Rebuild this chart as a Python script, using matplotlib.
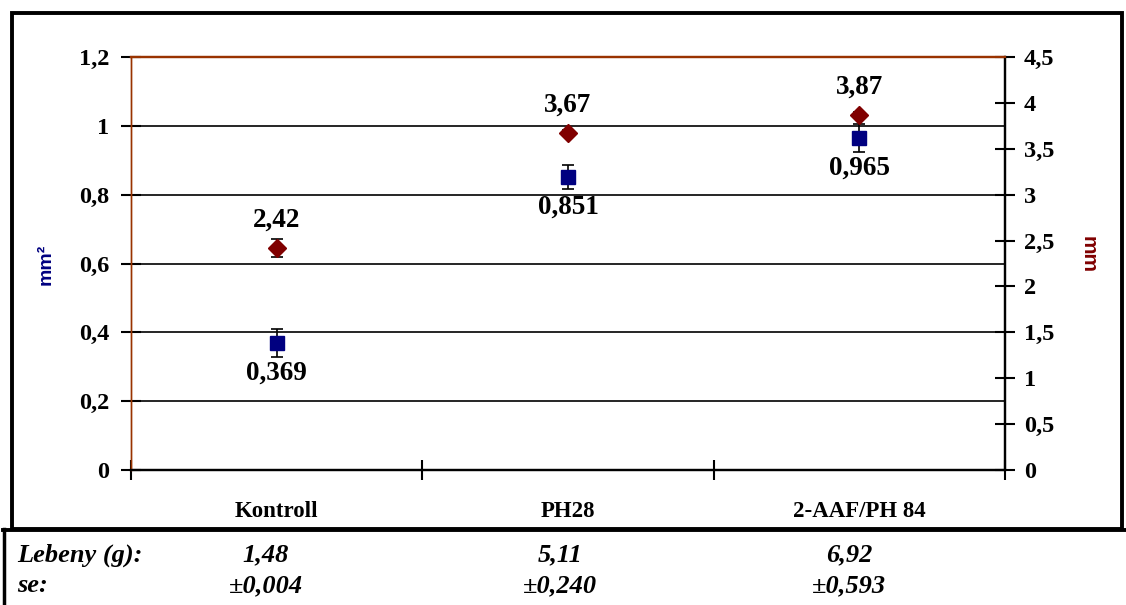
import numpy as np
import matplotlib
matplotlib.use("Agg")
import matplotlib.pyplot as plt
from matplotlib.patches import Rectangle
from matplotlib.lines import Line2D
from matplotlib.ticker import FuncFormatter

# --- adatok ---
categories = ["Kontroll", "PH28", "2-AAF/PH 84"]
area_mm2 = [0.369, 0.851, 0.965]        # bal tengely (mm2)
area_err = [0.04, 0.035, 0.04]
length_mm = [2.42, 3.67, 3.87]          # jobb tengely (mm)
length_err = [0.10, 0.03, 0.03]
area_labels = ["0,369", "0,851", "0,965"]
length_labels = ["2,42", "3,67", "3,87"]
lebeny = ["1,48", "5,11", "6,92"]
lebeny_se = ["±0,004", "±0,240", "±0,593"]

navy = "#000080"
darkred = "#800000"
brown = "#993300"
serif = "Liberation Serif"

W, H = 1126, 605
fig = plt.figure(figsize=(W / 100, H / 100), dpi=100)
ax = fig.add_axes([131 / W, 1 - 470 / H, (1005 - 131) / W, (470 - 57) / H])
ax2 = ax.twinx()

x = np.arange(len(categories)) + 0.5

# rácsvonalak
ax.set_ylim(0, 1.2)
ax.set_xlim(0, 3)
for yv in np.arange(0.2, 1.01, 0.2):
    ax.axhline(yv, color="black", lw=1.2, zorder=1)

# négyzetek (bal tengely)
ax.errorbar(x, area_mm2, yerr=area_err, fmt="none", ecolor="black",
            elinewidth=1.2, capsize=4, capthick=1.2, zorder=3)
ax.plot(x, area_mm2, "s", color=navy, ms=10, zorder=4)
for xi, v, lab in zip(x, area_mm2, area_labels):
    ax.annotate(lab, (xi, v), xytext=(0, -22), textcoords="offset points",
                ha="center", va="center", fontsize=19.5, fontweight="bold",
                family=serif)

# rombuszok (jobb tengely)
ax2.set_ylim(0, 4.5)
ax2.errorbar(x, length_mm, yerr=length_err, fmt="none", ecolor="black",
             elinewidth=1.2, capsize=4, capthick=1.2, zorder=3)
ax2.plot(x, length_mm, "D", color=darkred, ms=9, zorder=4)
for xi, v, lab in zip(x, length_mm, length_labels):
    ax2.annotate(lab, (xi, v), xytext=(0, 20), textcoords="offset points",
                 ha="center", va="center", fontsize=19.5, fontweight="bold",
                 family=serif)

# tengelyek
comma = FuncFormatter(lambda v, p: f"{v:g}".replace(".", ","))
ax.set_yticks(np.arange(0, 1.21, 0.2))
ax.yaxis.set_major_formatter(comma)
ax2.set_yticks(np.arange(0, 4.51, 0.5))
ax2.yaxis.set_major_formatter(comma)

ax.set_xticks([0, 1, 2, 3])
ax.set_xticklabels([])
ax.set_xticks(x, minor=True)
ax.set_xticklabels(categories, minor=True)
ax.tick_params(axis="x", which="major", direction="inout", length=15, width=1.5)
ax.tick_params(axis="x", which="minor", length=0, pad=22)
ax.tick_params(axis="y", direction="inout", length=15, width=1.5, pad=8)
ax2.tick_params(axis="y", direction="inout", length=15, width=1.5, pad=6)

for a in (ax, ax2):
    for lab in a.get_xticklabels(which="both") + a.get_yticklabels():
        lab.set_fontfamily(serif)
        lab.set_fontweight("bold")
        lab.set_fontsize(17.5)
for lab in ax.get_xticklabels(which="minor"):
    lab.set_fontsize(16.5)

for a in (ax, ax2):
    a.spines["left"].set_color(brown)
    a.spines["left"].set_linewidth(1.0)
    a.spines["top"].set_color(brown)
    a.spines["top"].set_linewidth(1.6)
    a.spines["bottom"].set_color("black")
    a.spines["bottom"].set_linewidth(1.6)
    a.spines["right"].set_color("black")
    a.spines["right"].set_linewidth(1.6)

fig.text(46 / W, 1 - 264 / H, "mm²", rotation=90, ha="center", va="center",
         color=navy, fontsize=14, fontweight="bold", family="Liberation Sans")
fig.text(1088 / W, 1 - 255 / H, "mm", rotation=-90, ha="center", va="center",
         color=darkred, fontsize=15, fontweight="bold", family="Liberation Sans")

# keretek
fig.patches.append(Rectangle((11.5 / W, 1 - 529 / H), (1122 - 11.5) / W,
                             (529 - 12.5) / H, transform=fig.transFigure,
                             fill=False, edgecolor="black", lw=2.8))
fig.lines.append(Line2D([3.5 / W, 3.5 / W], [0, 1 - 529 / H],
                        transform=fig.transFigure, color="black", lw=2.5))
fig.lines.append(Line2D([2.5 / W, 1], [1 - 530 / H, 1 - 530 / H],
                        transform=fig.transFigure, color="black", lw=2.8))

# táblázat a diagram alatt
tstyle = dict(fontsize=19, fontweight="bold", fontstyle="italic", family=serif,
              va="center")
fig.text(17 / W, 1 - 555 / H, "Lebeny (g):", ha="left", **tstyle)
fig.text(17 / W, 1 - 586 / H, "se:", ha="left", **tstyle)
x_px = [266, 560, 849]
for xp, v, s in zip(x_px, lebeny, lebeny_se):
    fig.text(xp / W, 1 - 555 / H, v, ha="center", **tstyle)
    fig.text(xp / W, 1 - 586 / H, s, ha="center", **tstyle)

fig.savefig("out.png", dpi=100)
